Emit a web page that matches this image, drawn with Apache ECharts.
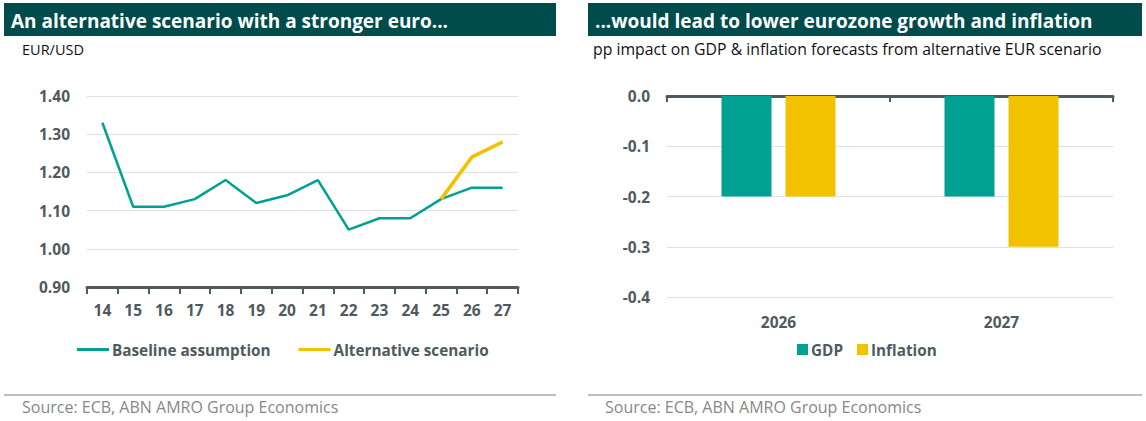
<!DOCTYPE html>
<html><head><meta charset="utf-8">
<script src="https://cdn.jsdelivr.net/npm/echarts@6/dist/echarts.min.js"></script>
<style>html,body{margin:0;padding:0;background:#fff}#c{width:1146px;height:421px}</style>
</head><body><div id="c"></div>
<script>
const years = ['14','15','16','17','18','19','20','21','22','23','24','25','26','27'];
const baseline = [1.33,1.11,1.11,1.13,1.18,1.12,1.14,1.18,1.05,1.08,1.08,1.13,1.16,1.16];
const alternative = [null,null,null,null,null,null,null,null,null,null,null,1.13,1.24,1.28];
const barCats = ['2026','2027'];
const gdp = [-0.2,-0.2];
const inflation = [-0.2,-0.3];

const TEAL = '#00a093', YEL = '#f2c100', DARK = '#004b4b', AX = '#4f5a60', GRID = '#e0e0e0';
const FONT = 'Open Sans';
const chart = echarts.init(document.getElementById('c'), null, {renderer:'svg'});
const labelStyle = {color: AX, fontWeight: 'bold', fontSize: 15.5, fontFamily: FONT};
chart.setOption({
  textStyle: {fontFamily: FONT},
  graphic: [
    {type:'rect', shape:{x:4,y:3,width:552,height:33}, style:{fill:DARK}},
    {type:'rect', shape:{x:588,y:3,width:554,height:33}, style:{fill:DARK}},
    {type:'rect', shape:{x:4,y:394,width:552,height:2}, style:{fill:'#bdbdbd'}},
    {type:'rect', shape:{x:588,y:394,width:554,height:2}, style:{fill:'#bdbdbd'}}
  ],
  title: [
    {text:'An alternative scenario with a stronger euro...', left:6, top:6, textStyle:{color:'#fff', fontSize:19, fontWeight:'bold', fontFamily:FONT}},
    {text:'...would lead to lower eurozone growth and inflation', left:590, top:6, textStyle:{color:'#fff', fontSize:19, fontWeight:'bold', fontFamily:FONT}},
    {text:'EUR/USD', left:17, top:37, textStyle:{color:'#111', fontSize:14.5, fontWeight:'normal', fontFamily:FONT}},
    {text:'pp impact on GDP & inflation forecasts from alternative EUR scenario', left:588, top:36, textStyle:{color:'#111', fontSize:15.8, fontWeight:'normal', fontFamily:FONT}},
    {text:'Source: ECB, ABN AMRO Group Economics', left:17, top:394, textStyle:{color:'#888', fontSize:16, fontWeight:'normal', fontFamily:FONT}},
    {text:'Source: ECB, ABN AMRO Group Economics', left:600, top:394, textStyle:{color:'#888', fontSize:16, fontWeight:'normal', fontFamily:FONT}}
  ],
  legend: [
    {data:['Baseline assumption','Alternative scenario'], left:72, top:337, icon:'rect', itemWidth:32, itemHeight:3, itemGap:28,
     textStyle:{color:AX, fontWeight:'bold', fontSize:15.3, fontFamily:FONT, padding:[0,0,0,-2]}},
    {data:['GDP','Inflation'], left:792, top:337, icon:'rect', itemWidth:11, itemHeight:11, itemGap:14,
     textStyle:{color:AX, fontWeight:'bold', fontSize:15.3, fontFamily:FONT, padding:[0,0,0,-2]}}
  ],
  grid: [
    {left:87, right:628, top:96, bottom:134},
    {left:667, right:33, top:96, bottom:124}
  ],
  xAxis: [
    {type:'category', gridIndex:0, data:years, boundaryGap:true,
     axisLine:{lineStyle:{color:AX, width:3}}, axisTick:{show:true, length:7, lineStyle:{color:AX, width:2}},
     axisLabel:Object.assign({margin:15}, labelStyle)},
    {type:'category', gridIndex:1, data:barCats, position:'bottom',
     axisLine:{show:false}, axisTick:{show:false}, axisLabel:Object.assign({margin:17}, labelStyle)},
    {type:'category', gridIndex:1, data:barCats, position:'top',
     axisLine:{lineStyle:{color:AX, width:3}}, axisTick:{show:true, inside:true, length:6, lineStyle:{color:AX, width:2}},
     axisLabel:{show:false}}
  ],
  yAxis: [
    {type:'value', gridIndex:0, min:0.9, max:1.4, interval:0.1, axisLine:{show:false}, axisTick:{show:false},
     splitLine:{lineStyle:{color:GRID, width:1}},
     axisLabel:Object.assign({margin:17, formatter:v=>v.toFixed(2)}, labelStyle)},
    {type:'value', gridIndex:1, min:-0.4, max:0, interval:0.1, axisLine:{show:false}, axisTick:{show:false},
     splitLine:{lineStyle:{color:GRID, width:1}},
     axisLabel:Object.assign({margin:17, formatter:v=>v.toFixed(1)}, labelStyle)}
  ],
  series: [
    {name:'Baseline assumption', type:'line', xAxisIndex:0, yAxisIndex:0, data:baseline, symbol:'none',
     lineStyle:{color:TEAL, width:2.5}, itemStyle:{color:TEAL}, z:2},
    {name:'Alternative scenario', type:'line', xAxisIndex:0, yAxisIndex:0, data:alternative, symbol:'none',
     lineStyle:{color:YEL, width:3.5}, itemStyle:{color:YEL}, z:3},
    {name:'GDP', type:'bar', xAxisIndex:1, yAxisIndex:1, data:gdp, barWidth:50, barGap:'28%', itemStyle:{color:TEAL}},
    {name:'Inflation', type:'bar', xAxisIndex:1, yAxisIndex:1, data:inflation, barWidth:50, barGap:'28%', itemStyle:{color:YEL}}
  ]
});
</script></body></html>
